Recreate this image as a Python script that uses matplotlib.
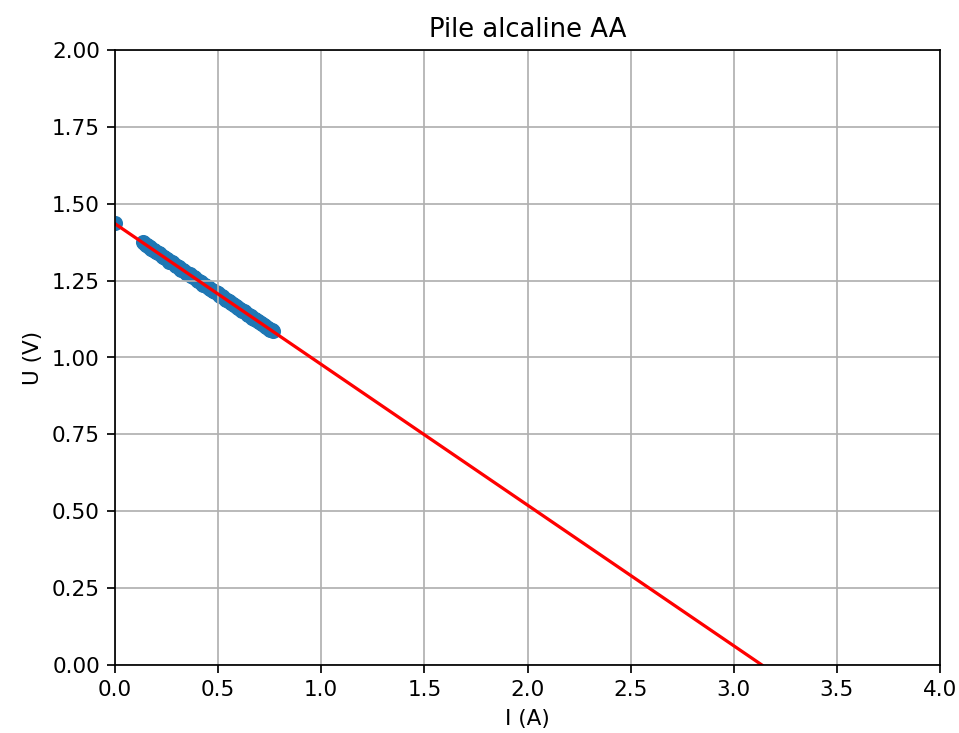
import numpy as np
import matplotlib.pyplot as plt

# mesures courant / tension
I_mes = [0.0,
         0.136, 0.142, 0.148, 0.153, 0.159, 0.165, 0.171, 0.176, 0.182, 0.189,
         0.195, 0.201, 0.207, 0.213, 0.219, 0.226, 0.232, 0.238, 0.244, 0.251,
         0.257, 0.264, 0.270, 0.277, 0.283, 0.290, 0.296, 0.303, 0.309, 0.316,
         0.322, 0.329, 0.336, 0.343, 0.349, 0.356, 0.362, 0.369, 0.376, 0.383,
         0.389, 0.396, 0.402, 0.409, 0.416, 0.423, 0.429, 0.436, 0.443, 0.450,
         0.456, 0.463, 0.470, 0.477, 0.483, 0.490, 0.497, 0.504, 0.510, 0.517,
         0.524, 0.531, 0.537, 0.544, 0.551, 0.558, 0.564, 0.571, 0.578, 0.585,
         0.591, 0.598, 0.605, 0.612, 0.618, 0.625, 0.632, 0.639, 0.645, 0.652,
         0.659, 0.666, 0.672, 0.679, 0.686, 0.693, 0.699, 0.706, 0.713, 0.720,
         0.726, 0.733, 0.740, 0.747, 0.753, 0.760, 0.766]
U_mes = [1.437,
         1.376, 1.371, 1.365, 1.366, 1.363, 1.359, 1.358, 1.353, 1.350, 1.349,
         1.347, 1.342, 1.339, 1.339, 1.336, 1.330, 1.327, 1.327, 1.324, 1.319,
         1.318, 1.312, 1.310, 1.309, 1.307, 1.301, 1.298, 1.298, 1.295, 1.289,
         1.286, 1.286, 1.282, 1.276, 1.274, 1.273, 1.271, 1.265, 1.262, 1.261,
         1.258, 1.253, 1.250, 1.249, 1.246, 1.240, 1.237, 1.236, 1.233, 1.228,
         1.225, 1.224, 1.221, 1.216, 1.213, 1.212, 1.209, 1.203, 1.200, 1.199,
         1.196, 1.191, 1.188, 1.187, 1.184, 1.179, 1.176, 1.175, 1.172, 1.166,
         1.163, 1.162, 1.159, 1.154, 1.151, 1.150, 1.147, 1.142, 1.139, 1.138,
         1.135, 1.130, 1.126, 1.125, 1.122, 1.118, 1.114, 1.113, 1.110, 1.105,
         1.102, 1.100, 1.097, 1.093, 1.090, 1.088, 1.086]

# modele lineaire U = E - r*I
E = 1.435
r = 0.4575
I_mod = np.array([0.0, E / r])
U_mod = E - r * I_mod

fig = plt.figure(figsize=(959 / 155, 733 / 155), dpi=155)
ax = fig.add_axes([115 / 959, 1 - 665 / 733, 825 / 959, 615 / 733])

ax.scatter(I_mes, U_mes)
ax.plot(I_mod, U_mod, 'r')

ax.set_title('Pile alcaline AA')
ax.set_xlabel('I (A)')
ax.set_ylabel('U (V)')
ax.set_xlim(0, 4)
ax.set_ylim(0, 2)
ax.grid()

plt.savefig('out.png', dpi=155)
